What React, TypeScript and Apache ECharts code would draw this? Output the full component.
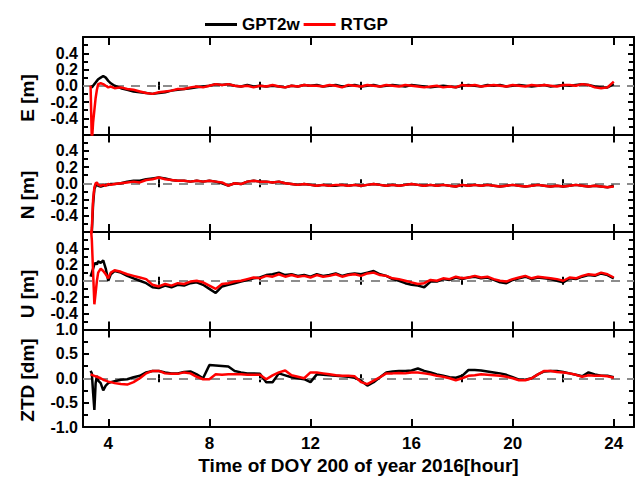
import React, { useEffect, useRef } from "react";
import * as echarts from "echarts";

const hours = [
  3.3, 3.35, 3.4, 3.45, 3.5, 3.55, 3.6, 3.7, 3.8, 3.9, 4.0, 4.1,
  4.25, 4.5, 4.75, 5.0, 5.25, 5.5, 5.75, 6.0,
  6.25, 6.5, 6.75, 7.0, 7.25, 7.5, 7.75, 8.0,
  8.25, 8.5, 8.75, 9.0, 9.25, 9.5, 9.75, 10.0,
  10.25, 10.5, 10.75, 11.0, 11.25, 11.5, 11.75, 12.0,
  12.25, 12.5, 12.75, 13.0, 13.25, 13.5, 13.75, 14.0,
  14.25, 14.5, 14.75, 15.0, 15.25, 15.5, 15.75, 16.0,
  16.25, 16.5, 16.75, 17.0, 17.25, 17.5, 17.75, 18.0,
  18.25, 18.5, 18.75, 19.0, 19.25, 19.5, 19.75, 20.0,
  20.25, 20.5, 20.75, 21.0, 21.25, 21.5, 21.75, 22.0,
  22.25, 22.5, 22.75, 23.0, 23.25, 23.5, 23.75, 24.0,
];

const eGPT2w = [
  0.0, -0.02, 0.0, 0.02, 0.04, 0.06, 0.08, 0.1, 0.12, 0.1, 0.06, 0.03,
  0.0, -0.03, -0.05, -0.07, -0.08, -0.09, -0.1, -0.09,
  -0.08, -0.06, -0.05, -0.04, -0.03, -0.02, -0.01, 0.0,
  0.02, 0.01, 0.02, 0.0, -0.01, 0.01, -0.01, 0.0,
  -0.01, 0.0, -0.01, -0.02, 0.0, -0.01, 0.01, 0.0,
  0.01, -0.01, 0.0, 0.01, -0.01, 0.0, 0.01, -0.01,
  0.0, 0.01, -0.01, 0.0, 0.01, 0.0, -0.01, 0.01,
  0.0, -0.01, -0.02, -0.01, 0.0, -0.01, -0.02, 0.0,
  0.01, 0.0, -0.01, 0.01, 0.0, 0.01, -0.01, 0.0,
  0.01, 0.0, -0.01, 0.0, 0.01, -0.01, 0.0, 0.01,
  0.0, 0.01, 0.02, 0.01, -0.01, -0.02, -0.02, 0.02,
];
const eRTGP = [
  0.0, -0.7, -0.45, -0.3, -0.15, -0.05, 0.02, 0.03, 0.02, 0.0, -0.02, -0.01,
  -0.03, -0.02, -0.04, -0.05, -0.07, -0.09, -0.1, -0.08,
  -0.07, -0.06, -0.04, -0.04, -0.02, -0.01, -0.02, 0.0,
  0.02, 0.01, 0.02, 0.0, -0.01, 0.0, -0.02, 0.0,
  -0.01, 0.01, -0.01, -0.02, 0.0, -0.01, 0.01, 0.0,
  0.0, -0.01, 0.01, 0.0, -0.02, 0.01, 0.0, -0.01,
  0.01, 0.0, -0.01, 0.01, 0.0, -0.01, 0.01, 0.0,
  -0.01, -0.02, -0.01, 0.0, -0.02, -0.01, -0.02, 0.01,
  0.0, 0.01, -0.01, 0.0, 0.01, 0.0, -0.01, 0.01,
  0.0, -0.01, 0.01, 0.0, 0.01, 0.0, -0.01, 0.01,
  0.01, 0.0, 0.02, 0.01, -0.02, -0.03, -0.02, 0.05,
];

const nGPT2w = [
  -0.75, -0.6, -0.25, -0.07, -0.03, -0.02, -0.03, -0.04, -0.03, -0.02, -0.02, -0.01,
  -0.01, 0.0, 0.02, 0.03, 0.03, 0.05, 0.06, 0.07,
  0.06, 0.04, 0.03, 0.03, 0.02, 0.03, 0.02, 0.03,
  0.02, 0.0, -0.03, 0.0, -0.01, 0.02, 0.03, 0.02,
  0.02, 0.01, 0.02, 0.0, -0.01, -0.02, -0.01, -0.02,
  -0.03, -0.02, -0.03, -0.03, -0.02, -0.03, -0.02, -0.03,
  -0.02, -0.01, -0.02, -0.03, -0.02, -0.03, -0.02, -0.01,
  -0.02, -0.03, -0.02, -0.03, -0.02, -0.03, -0.04, -0.02,
  -0.03, -0.02, -0.03, -0.02, -0.03, -0.04, -0.03, -0.02,
  -0.03, -0.04, -0.03, -0.02, -0.03, -0.04, -0.03, -0.04,
  -0.03, -0.02, -0.03, -0.04, -0.03, -0.04, -0.05, -0.03,
];
const nRTGP = [
  -0.75, -0.55, -0.2, -0.05, 0.0, 0.01, -0.02, -0.03, -0.02, -0.03, -0.01, -0.02,
  -0.01, 0.0, 0.01, 0.02, 0.01, 0.04, 0.05, 0.07,
  0.05, 0.04, 0.03, 0.03, 0.02, 0.03, 0.02, 0.03,
  0.02, 0.01, -0.03, 0.0, -0.01, 0.02, 0.03, 0.02,
  0.02, 0.01, 0.02, 0.0, -0.01, -0.02, -0.01, -0.02,
  -0.03, -0.02, -0.03, -0.02, -0.02, -0.03, -0.02, -0.03,
  -0.02, -0.01, -0.02, -0.03, -0.02, -0.03, -0.02, -0.01,
  -0.02, -0.03, -0.02, -0.03, -0.02, -0.03, -0.04, -0.02,
  -0.03, -0.02, -0.03, -0.02, -0.03, -0.04, -0.03, -0.02,
  -0.03, -0.04, -0.03, -0.02, -0.03, -0.04, -0.03, -0.04,
  -0.03, -0.02, -0.03, -0.04, -0.03, -0.04, -0.05, -0.04,
];

const uGPT2w = [
  0.05, 0.1, 0.15, 0.2, 0.22, 0.2, 0.24, 0.22, 0.25, 0.15, 0.0, 0.08,
  0.12, 0.1, 0.06, 0.03, 0.0, -0.03, -0.08, -0.09,
  -0.06, -0.08, -0.05, -0.06, -0.03, -0.02, -0.05, -0.1,
  -0.15, -0.07, -0.05, -0.03, -0.01, 0.01, 0.03, 0.04,
  0.07, 0.08, 0.1, 0.07, 0.08, 0.06, 0.07, 0.05,
  0.08, 0.06, 0.07, 0.09, 0.06, 0.08, 0.09, 0.08,
  0.1, 0.12, 0.08, 0.06, 0.02, 0.0, -0.03, -0.05,
  -0.06, -0.08, -0.01, -0.01, 0.02, 0.01, 0.04, 0.02,
  0.04, 0.05, 0.03, 0.04, 0.01, -0.02, -0.03, 0.01,
  0.03, 0.05, 0.02, 0.04, 0.03, 0.02, 0.0, -0.02,
  0.03, 0.02, 0.05, 0.07, 0.06, 0.09, 0.07, 0.03,
];
const uRTGP = [
  0.7, 0.5, 0.1, -0.29, -0.15, 0.0, 0.1, 0.15, 0.12, 0.08, 0.03, 0.1,
  0.13, 0.11, 0.08, 0.06, 0.04, 0.02, -0.05, -0.07,
  -0.04, -0.06, -0.03, -0.04, -0.01, 0.0, -0.02, -0.06,
  -0.1, -0.04, -0.03, -0.01, 0.0, 0.02, 0.04, 0.03,
  0.06, 0.05, 0.08, 0.05, 0.07, 0.05, 0.06, 0.04,
  0.07, 0.05, 0.06, 0.08, 0.05, 0.07, 0.08, 0.06,
  0.09, 0.1, 0.07, 0.06, 0.03, 0.02, 0.0, -0.02,
  -0.04, -0.03, 0.01, 0.0, 0.03, 0.02, 0.05, 0.03,
  0.04, 0.06, 0.04, 0.05, 0.02, 0.0, -0.01, 0.02,
  0.04, 0.06, 0.03, 0.05, 0.04, 0.03, 0.02, 0.0,
  0.04, 0.03, 0.06, 0.08, 0.07, 0.1, 0.08, 0.04,
];

const ztdGPT2w = [
  0.15, 0.1, -0.3, -0.65, -0.1, 0.05, -0.05, -0.1, -0.25, -0.15, -0.1, -0.08,
  -0.06, -0.03, -0.02, 0.02, 0.05, 0.12, 0.15, 0.15,
  0.12, 0.1, 0.1, 0.13, 0.14, 0.08, 0.0, 0.27,
  0.26, 0.25, 0.24, 0.15, 0.12, 0.1, 0.1, 0.09,
  -0.08, -0.08, 0.1, 0.06, 0.02, 0.0, -0.02, -0.08,
  0.08, 0.07, 0.06, 0.05, 0.04, 0.03, 0.01, -0.05,
  -0.15, -0.08, 0.02, 0.12, 0.14, 0.15, 0.15, 0.16,
  0.2, 0.15, 0.12, 0.08, 0.05, 0.02, 0.01, 0.05,
  0.17, 0.17, 0.16, 0.14, 0.12, 0.1, 0.07, 0.02,
  -0.03, -0.03, 0.0, 0.08, 0.14, 0.15, 0.15, 0.13,
  0.1, 0.07, 0.04, 0.12, 0.08, 0.05, 0.05, 0.02,
];
const ztdRTGP = [
  0.08, 0.07, 0.06, 0.05, 0.04, 0.03, 0.02, 0.0, -0.03, -0.05, -0.07, -0.08,
  -0.1, -0.12, -0.13, -0.08, 0.0, 0.1, 0.15, 0.15,
  0.1, 0.09, 0.09, 0.12, 0.1, 0.03, -0.02, -0.02,
  0.08, 0.07, 0.08, 0.08, 0.08, 0.07, 0.07, 0.07,
  -0.02, 0.06, 0.12, 0.16, 0.06, 0.03, 0.0, 0.12,
  0.12, 0.1, 0.08, 0.06, 0.05, 0.05, 0.04, -0.08,
  -0.12, -0.05, 0.02, 0.1, 0.1, 0.11, 0.1, 0.12,
  0.12, 0.1, 0.08, 0.05, 0.03, 0.0, -0.04, 0.0,
  0.05, 0.06, 0.08, 0.07, 0.06, 0.05, 0.03, 0.0,
  -0.04, -0.04, 0.0, 0.08, 0.15, 0.15, 0.13, 0.12,
  0.1, 0.07, 0.03, 0.06, 0.05, 0.05, 0.04, 0.01,
];

const seriesNames = ["GPT2w", "RTGP"];
const panelNames = ["E [m]", "N [m]", "U [m]", "ZTD [dm]"];
const majorHours = [4, 8, 12, 16, 20, 24];
const minorHours = [6, 10, 14, 18, 22];
const xTitle = "Time of DOY 200 of year 2016[hour]";

const FONT = '"Liberation Sans", Arial, sans-serif';

export default function App() {
  const ref = useRef<HTMLDivElement>(null);
  useEffect(() => {
    if (!ref.current) return;
    const chart = echarts.init(ref.current, undefined, { renderer: "svg" });

    const panels = [
      { black: eGPT2w, red: eRTGP, min: -0.6, max: 0.6, interval: 0.2 },
      { black: nGPT2w, red: nRTGP, min: -0.6, max: 0.6, interval: 0.2 },
      { black: uGPT2w, red: uRTGP, min: -0.6, max: 0.6, interval: 0.2 },
      { black: ztdGPT2w, red: ztdRTGP, min: -1, max: 1, interval: 0.5 },
    ];
    const tops = [37, 134.5, 232, 329.5];
    const nameY = [98, 195, 294, 380];

    const grids: any[] = [];
    const xAxes: any[] = [];
    const yAxes: any[] = [];
    const series: any[] = [];
    const graphics: any[] = [];
    const axisLine = { show: true, onZero: false, lineStyle: { color: "#000", width: 2 } };

    panels.forEach((p, i) => {
      grids.push({ left: 83, right: 7, top: tops[i], height: 97.5 });
      const last = i === panels.length - 1;
      const xCommon = {
        type: "value",
        gridIndex: i,
        min: 3,
        max: 24.8,
        splitLine: { show: false },
      };
      xAxes.push({
        ...xCommon,
        position: "bottom",
        axisLine,
        axisTick: { show: true, inside: true, length: 8, customValues: majorHours, lineStyle: { color: "#000", width: 2 } },
        axisLabel: last
          ? { show: true, customValues: majorHours, margin: 8, color: "#000", fontSize: 17, fontWeight: "bold", fontFamily: FONT }
          : { show: false },
        name: last ? xTitle : "",
        nameLocation: "middle",
        nameGap: 29,
        nameTextStyle: { color: "#000", fontSize: 19, fontWeight: "bold", fontFamily: FONT },
      });
      xAxes.push({
        ...xCommon,
        position: "bottom",
        axisLine: { show: false },
        axisTick: { show: true, inside: true, length: 4, customValues: minorHours, lineStyle: { color: "#000", width: 2 } },
        axisLabel: { show: false },
      });
      xAxes.push({
        ...xCommon,
        position: "top",
        axisLine,
        axisTick: { show: true, inside: true, length: 8, customValues: majorHours, lineStyle: { color: "#000", width: 2 } },
        axisLabel: { show: false },
      });
      xAxes.push({
        ...xCommon,
        position: "top",
        axisLine: { show: false },
        axisTick: { show: true, inside: true, length: 4, customValues: minorHours, lineStyle: { color: "#000", width: 2 } },
        axisLabel: { show: false },
      });

      const yCommon = {
        type: "value",
        gridIndex: i,
        min: p.min,
        max: p.max,
        interval: p.interval,
        splitLine: { show: false },
        axisLine,
        axisTick: { show: true, inside: true, length: 6, lineStyle: { color: "#000", width: 2 } },
        minorTick: { show: true, splitNumber: 2, length: 5, lineStyle: { color: "#000", width: 2 } },
      };
      const lim = p.interval === 0.2 ? 0.5 : 1.01;
      yAxes.push({
        ...yCommon,
        position: "left",
        axisLabel: {
          show: true,
          margin: 5,
          color: "#000",
          fontSize: 16,
          fontWeight: "bold",
          fontFamily: FONT,
          formatter: (v: number) => (Math.abs(v) > lim ? "" : v.toFixed(1)),
        },
      });
      yAxes.push({
        ...yCommon,
        position: "right",
        axisLabel: { show: false },
      });

      series.push({
        name: seriesNames[0],
        type: "line",
        xAxisIndex: i * 4,
        yAxisIndex: i * 2,
        data: hours.map((h, k) => [h, p.black[k]]),
        symbol: "none",
        lineStyle: { color: "#000", width: 2.5 },
        itemStyle: { color: "#000" },
        z: 3,
        markLine: {
          silent: true,
          symbol: ["none", "none"],
          label: { show: false },
          lineStyle: { color: "#8c8c8c", type: [9, 7], width: 2 },
          data: [{ yAxis: 0 }],
          z: 2,
        },
      });
      series.push({
        name: seriesNames[1],
        type: "line",
        xAxisIndex: i * 4,
        yAxisIndex: i * 2,
        data: hours.map((h, k) => [h, p.red[k]]),
        symbol: "none",
        lineStyle: { color: "#ff0000", width: 2.5 },
        itemStyle: { color: "#ff0000" },
        z: 4,
      });

      graphics.push({
        type: "text",
        x: 27,
        y: nameY[i],
        rotation: Math.PI / 2,
        style: {
          text: panelNames[i],
          fill: "#000",
          font: `bold 19px ${FONT}`,
          align: "center",
          verticalAlign: "middle",
        },
      });
    });

    chart.setOption({
      animation: false,
      backgroundColor: "#fff",
      legend: {
        data: seriesNames.map((n) => ({ name: n, icon: "rect" })),
        left: 200,
        top: 11,
        itemWidth: 32,
        itemHeight: 3,
        itemGap: 4,
        textStyle: { color: "#000", fontSize: 17, fontWeight: "bold", fontFamily: FONT },
      },
      grid: grids,
      xAxis: xAxes,
      yAxis: yAxes,
      series,
      graphic: graphics,
    });
    return () => chart.dispose();
  }, []);
  return (
    <div
      ref={ref}
      style={{ position: "fixed", left: 0, top: 0, width: 641, height: 480, background: "#fff" }}
    />
  );
}
